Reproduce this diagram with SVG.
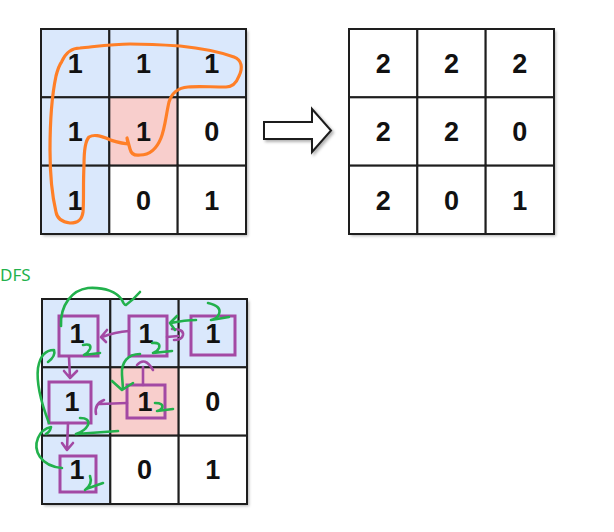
<svg xmlns="http://www.w3.org/2000/svg" width="614" height="532" viewBox="0 0 614 532">
<style>
.cell{stroke:#1e1e1e;stroke-width:2}
.b{fill:#dae8fc}.p{fill:#f8cecc}.w{fill:#ffffff}
.num{font-family:"Liberation Sans",Arial,sans-serif;font-weight:bold;font-size:27px;fill:#111;text-anchor:middle}
.pu{fill:none;stroke:#a349a4;stroke-width:2.6;stroke-linecap:round;stroke-linejoin:round}
.gr{fill:none;stroke:#22b14c;stroke-width:2.6;stroke-linecap:round;stroke-linejoin:round}
.sq{fill:none;stroke:#a349a4;stroke-width:3}
</style>
<defs>
<filter id="sh" x="-10%" y="-10%" width="130%" height="130%">
<feDropShadow dx="2" dy="2" stdDeviation="1.5" flood-color="#000" flood-opacity="0.3"/>
</filter>
</defs>
<rect width="614" height="532" fill="#fff"/>

<!-- top-left grid -->
<g id="gridA">
<rect x="41" y="29" width="205" height="205" fill="#fff" filter="url(#sh)"/>
<g id="a00"><rect class="cell b" x="41" y="29" width="68.33" height="68.33"/><text class="num" x="75.2" y="73">1</text></g>
<g id="a01"><rect class="cell b" x="109.33" y="29" width="68.33" height="68.33"/><text class="num" x="143.5" y="73">1</text></g>
<g id="a02"><rect class="cell b" x="177.67" y="29" width="68.33" height="68.33"/><text class="num" x="211.8" y="73">1</text></g>
<g id="a10"><rect class="cell b" x="41" y="97.33" width="68.33" height="68.33"/><text class="num" x="75.2" y="141.3">1</text></g>
<g id="a11"><rect class="cell p" x="109.33" y="97.33" width="68.33" height="68.33"/><text class="num" x="143.5" y="141.3">1</text></g>
<g id="a12"><rect class="cell w" x="177.67" y="97.33" width="68.33" height="68.33"/><text class="num" x="211.8" y="141.3">0</text></g>
<g id="a20"><rect class="cell b" x="41" y="165.67" width="68.33" height="68.33"/><text class="num" x="75.2" y="209.6">1</text></g>
<g id="a21"><rect class="cell w" x="109.33" y="165.67" width="68.33" height="68.33"/><text class="num" x="143.5" y="209.6">0</text></g>
<g id="a22"><rect class="cell w" x="177.67" y="165.67" width="68.33" height="68.33"/><text class="num" x="211.8" y="209.6">1</text></g>
</g>

<!-- right grid -->
<g id="gridB">
<rect x="349" y="29" width="205" height="205" fill="#fff" filter="url(#sh)"/>
<g id="b00"><rect class="cell w" x="349" y="29" width="68.33" height="68.33"/><text class="num" x="383.2" y="73">2</text></g>
<g id="b01"><rect class="cell w" x="417.33" y="29" width="68.33" height="68.33"/><text class="num" x="451.5" y="73">2</text></g>
<g id="b02"><rect class="cell w" x="485.67" y="29" width="68.33" height="68.33"/><text class="num" x="519.8" y="73">2</text></g>
<g id="b10"><rect class="cell w" x="349" y="97.33" width="68.33" height="68.33"/><text class="num" x="383.2" y="141.3">2</text></g>
<g id="b11"><rect class="cell w" x="417.33" y="97.33" width="68.33" height="68.33"/><text class="num" x="451.5" y="141.3">2</text></g>
<g id="b12"><rect class="cell w" x="485.67" y="97.33" width="68.33" height="68.33"/><text class="num" x="519.8" y="141.3">0</text></g>
<g id="b20"><rect class="cell w" x="349" y="165.67" width="68.33" height="68.33"/><text class="num" x="383.2" y="209.6">2</text></g>
<g id="b21"><rect class="cell w" x="417.33" y="165.67" width="68.33" height="68.33"/><text class="num" x="451.5" y="209.6">0</text></g>
<g id="b22"><rect class="cell w" x="485.67" y="165.67" width="68.33" height="68.33"/><text class="num" x="519.8" y="209.6">1</text></g>
</g>

<!-- bottom grid -->
<g id="gridC">
<rect x="42" y="299" width="205" height="205" fill="#fff" filter="url(#sh)"/>
<g id="c00"><rect class="cell b" x="42" y="299" width="68.33" height="68.33"/><text class="num" x="77" y="342.7">1</text></g>
<g id="c01"><rect class="cell b" x="110.33" y="299" width="68.33" height="68.33"/><text class="num" x="146" y="342.7">1</text></g>
<g id="c02"><rect class="cell b" x="178.67" y="299" width="68.33" height="68.33"/><text class="num" x="213" y="342.7">1</text></g>
<g id="c10"><rect class="cell b" x="42" y="367.33" width="68.33" height="68.33"/><text class="num" x="72" y="411">1</text></g>
<g id="c11"><rect class="cell p" x="110.33" y="367.33" width="68.33" height="68.33"/><text class="num" x="145" y="411">1</text></g>
<g id="c12"><rect class="cell w" x="178.67" y="367.33" width="68.33" height="68.33"/><text class="num" x="212.8" y="411">0</text></g>
<g id="c20"><rect class="cell b" x="42" y="435.67" width="68.33" height="68.33"/><text class="num" x="77" y="479.3">1</text></g>
<g id="c21"><rect class="cell w" x="110.33" y="435.67" width="68.33" height="68.33"/><text class="num" x="144.5" y="479.3">0</text></g>
<g id="c22"><rect class="cell w" x="178.67" y="435.67" width="68.33" height="68.33"/><text class="num" x="212.8" y="479.3">1</text></g>
</g>

<g id="label"><text x="0" y="281" font-family="'Noto Sans','DejaVu Sans',sans-serif" font-size="17" fill="#22b14c">DFS</text></g>

<g id="connectors">
<!-- big hollow arrow -->
<polygon points="264,122 312,122 312,109 331,130.5 312,152 312,139 264,139" fill="#fff" stroke="#1e1e1e" stroke-width="2" stroke-linejoin="miter" filter="url(#sh)"/>

<!-- orange outline -->
<path d="M61.7,61.7 C66,52 72,48 80,48 C100,46 115,44 130,44 C150,44 165,45 180,46 C200,48 220,52 234,57 C242,60 243,68 239,76 C236,84 232,87 226,87 C210,87 198,86 188,87 C178,88 172,92 169,102 C166,115 165,128 161,138 C157,148 150,155 140,155 C134,156 131,153 130,149 L127,138 L128,144 C120,143 112,141 106,138 C100,136 94,134 89,137 C85,141 84,150 84,165 C83,185 84,200 83,212 C82,220 78,223 70,223 C62,222 57,218 56,212 C52,195 50,175 50,150 C50,120 52,95 56,76 C58,68 60,64 61.7,61.7 Z" fill="none" stroke="#ff7f27" stroke-width="3.2" stroke-linejoin="round"/>

<!-- purple squares -->
<rect class="sq" x="59" y="316" width="39" height="40"/>
<rect class="sq" x="129" y="316" width="38" height="40"/>
<rect class="sq" x="191" y="316" width="44" height="39"/>
<rect class="sq" x="49" y="382" width="42" height="41"/>
<rect class="sq" x="127" y="385" width="38" height="33"/>
<rect class="sq" x="60" y="456" width="36" height="36"/>

<!-- purple arrows -->
<path class="pu" d="M129,331 Q115,332 102,337 M107,330 L101,337 L106,342"/>
<path class="pu" d="M167,337 L178,336 M172,329 Q184,329 183,335 Q182,340 174,340"/>
<path class="pu" d="M143,385 L143,367 M137,365 Q145,356 153,370"/>
<path class="pu" d="M127,403 L100,404 M104,400 Q94,404 96,414"/>
<path class="pu" d="M69,357 L70,378 M64,371 L70,378 L77,371"/>
<path class="pu" d="M68,423 L67,450 M62,443 L67,450 L73,443"/>

<!-- green strokes -->
<path class="gr" d="M61,326 C60,305 72,290 88,288 C105,287 117,292 122,300 Q124,305 126,305 Q133,300 140,292"/>
<path class="gr" d="M196,320 Q185,320 171,323 M177,316 L170,323 L175,330"/>
<path class="gr" d="M208,303 Q222,306 219,314 Q217,319 211,320 L229,317"/>
<path class="gr" d="M83,345 Q92,343 90,349 Q88,353 84,355 L100,353"/>
<path class="gr" d="M152,343 Q161,342 159,348 Q157,352 153,353 L172,351"/>
<path class="gr" d="M155,403 Q164,403 162,408 Q160,411 157,411 L173,409"/>
<path class="gr" d="M80,418 Q90,418 88,425 Q85,431 76,434 L118,431"/>
<path class="gr" d="M90,476 Q93,484 85,490 M86,489 L103,483"/>
<path class="gr" d="M49,423 C42,405 36,385 38,368 C40,356 46,350 54,350 Q56,356 48,362"/>
<path class="gr" d="M62,468 C40,466 33,450 38,438 C41,431 46,428 51,427 Q50,432 46,434"/>
<path class="gr" d="M140,354 C128,354 121,362 122,375 L123,389 M112,381 L122,390 L133,383"/>
</g>
</svg>
